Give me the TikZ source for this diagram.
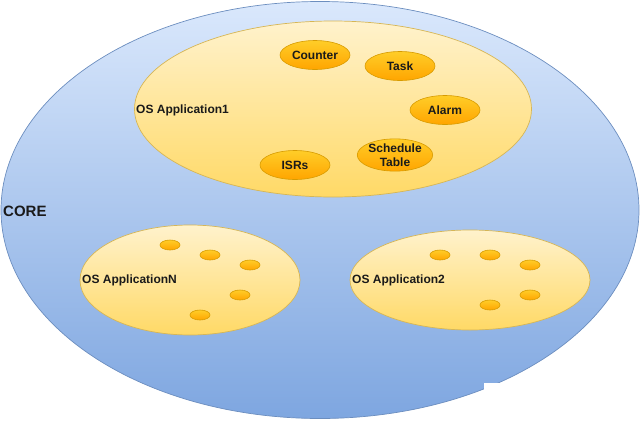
\documentclass[tikz,border=0pt]{standalone}
\usepackage{fontspec}
\setmainfont{Liberation Sans}
\usetikzlibrary{shapes.geometric}

\definecolor{coreline}{HTML}{6C8EBF}
\definecolor{coretop}{HTML}{DAE8FC}
\definecolor{corebot}{HTML}{7EA6E0}
\definecolor{appline}{HTML}{D6B656}
\definecolor{apptop}{HTML}{FFF2CC}
\definecolor{appbot}{HTML}{FFD966}
\definecolor{objline}{HTML}{D79B00}
\definecolor{objtop}{HTML}{FFCD28}
\definecolor{objbot}{HTML}{FFA500}
\definecolor{txt}{HTML}{1A1A1A}

\tikzset{
  core/.style={ellipse,draw=coreline,line width=.7pt,top color=coretop,bottom color=corebot,
    minimum width=638pt,minimum height=417pt,inner sep=0pt},
  app/.style={ellipse,draw=appline,line width=.7pt,top color=apptop,bottom color=appbot,inner sep=0pt},
  obj/.style={ellipse,draw=objline,line width=.6pt,top color=objtop,bottom color=objbot,
    minimum width=70pt,minimum height=29pt,inner sep=0pt,text=txt,font=\bfseries\fontsize{12}{12}\selectfont,
    align=center},
  dot/.style={ellipse,draw=objline,line width=.6pt,top color=objtop,bottom color=objbot,
    minimum width=20pt,minimum height=10pt,inner sep=0pt},
  lbl/.style={anchor=west,inner sep=0pt,text=txt,font=\bfseries\fontsize{12}{12}\selectfont}
}

\begin{document}
\begin{tikzpicture}[x=1pt,y=-1pt]
	\useasboundingbox (0,0) rectangle (641,421);
	\node[core] (core) at (320,210){};
	\node[lbl,font=\bfseries\fontsize{15}{15}\selectfont] (corelbl) at (3,211){CORE};
	% OS Application1
	\node[app,minimum width=397pt,minimum height=176pt] (app1) at (333,109){};
	\node[lbl] (app1lbl) at (136,110){OS Application1};
	\node[obj] (counter) at (315,55){Counter};
	\node[obj] (task) at (400,66){Task};
	\node[obj] (alarm) at (445,110){Alarm};
	\node[obj,font=\bfseries\fontsize{12}{14}\selectfont] (sched) at (395,155){Schedule\\Table};
	\node[obj] (isrs) at (295,165){ISRs};
	% OS ApplicationN
	\node[app,minimum width=220pt,minimum height=110pt] (appN) at (190,280){};
	\node[lbl] (appNlbl) at (82,280){OS ApplicationN};
	\foreach \i/\x/\y in {1/170/245,2/210/255,3/250/265,4/240/295,5/200/315}
		\node[dot] (dn\i) at (\x,\y){};
	% OS Application2
	\node[app,minimum width=240pt,minimum height=100pt] (app2) at (470,280){};
	\node[lbl] (app2lbl) at (352,280){OS Application2};
	\foreach \i/\x/\y in {1/440/255,2/490/255,3/530/265,4/530/295,5/490/305}
		\node[dot] (dt\i) at (\x,\y){};
	\fill[white] (484,383) rectangle (641,421);
\end{tikzpicture}
\end{document}
